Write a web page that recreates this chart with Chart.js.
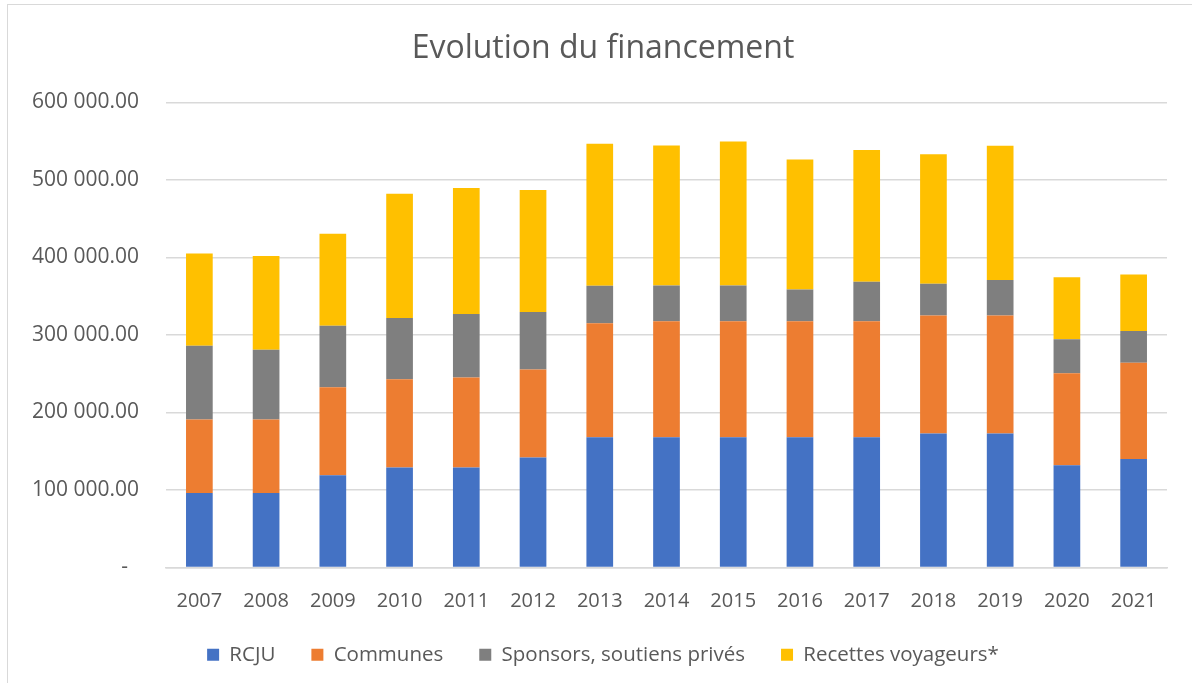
<!DOCTYPE html>
<html lang="fr">
<head>
<meta charset="utf-8">
<title>Evolution du financement</title>
<script src="https://cdn.jsdelivr.net/npm/chart.js@4.4.1/dist/chart.umd.min.js"></script>
<style>
  html, body { margin: 0; padding: 0; background: #fff; overflow: hidden; }
  #frame {
    position: absolute; left: 7px; top: 4px; width: 1300px; height: 800px;
    border: 1.5px solid #d9d9d9;
  }
  #wrap { position: absolute; left: 0; top: 0; width: 1192px; height: 683px; }
</style>
</head>
<body>
<div id="frame"></div>
<div id="wrap"><canvas id="chart"></canvas></div>
<script>
  // Evolution du financement — montants par année
  const YEARS    = ["2007", "2008", "2009", "2010", "2011", "2012", "2013", "2014",
                    "2015", "2016", "2017", "2018", "2019", "2020", "2021"];
  const RCJU     = [96000, 96000, 119000, 129000, 129000, 142000, 168000, 168000,
                    168000, 168000, 168000, 173000, 173000, 132000, 140000];
  const COMMUNES = [95000, 95000, 113500, 114000, 116000, 113500, 147000, 149700,
                    149700, 149700, 149700, 152000, 152000, 118500, 124000];
  const SPONSORS = [95000, 90000, 79500, 79000, 82000, 74000, 48500, 46000,
                    46000, 40800, 51000, 41000, 46000, 44000, 41000];
  const RECETTES = [119000, 121000, 118700, 160000, 162500, 157500, 183000, 180700,
                    185800, 167700, 170000, 167000, 173000, 80000, 73000];
  const Y_MAX  = 600000;
  const Y_STEP = 100000;

  (function () {
    "use strict";

    const TXT  = "#595959";
    const GRID = "#d9d9d9";
    const FONT = "'Open Sans', 'Noto Sans', sans-serif";

    // format comptable : 600 000.00, zéro = "-"
    function fmtAmount(v) {
      if (v === 0) return "-  ";
      const parts = Number(v).toFixed(2).split(".");
      return parts[0].replace(/\B(?=(\d{3})+(?!\d))/g, " ") + "." + parts[1];
    }

    function ds(label, data, color) {
      return {
        label, data,
        backgroundColor: color,
        borderWidth: 0,
        barPercentage: 0.4,
        categoryPercentage: 1.0,
      };
    }

    new Chart(document.getElementById("chart"), {
      type: "bar",
      data: {
        labels: YEARS,
        datasets: [
          ds("RCJU", RCJU, "#4472c4"),
          ds("Communes", COMMUNES, "#ed7d31"),
          ds("Sponsors, soutiens privés", SPONSORS, "#7f7f7f"),
          ds("Recettes voyageurs*", RECETTES, "#ffc000"),
        ],
      },
      options: {
        responsive: true,
        maintainAspectRatio: false,
        animation: false,
        layout: { padding: { left: 14, right: 0, top: 0, bottom: 8 } },
        plugins: {
          tooltip: { enabled: false },
          title: {
            display: true,
            text: "Evolution du financement",
            color: TXT,
            font: { family: FONT, size: 32, weight: "normal" },
            padding: { top: 30, bottom: 34 },
          },
          legend: {
            position: "bottom",
            labels: {
              color: TXT,
              font: { family: FONT, size: 20.5 },
              boxWidth: 12,
              boxHeight: 12,
              padding: 36,
            },
          },
        },
        scales: {
          x: {
            stacked: true,
            afterFit: s => { s.height = 41; },
            grid: { display: false },
            border: { display: true, color: GRID, width: 1.5 },
            ticks: { color: TXT, font: { family: FONT, size: 20 }, padding: 14 },
          },
          y: {
            stacked: true,
            min: 0,
            max: Y_MAX,
            afterFit: s => { s.width = 152; },
            grid: { color: GRID, lineWidth: 1.5, drawTicks: false },
            border: { display: false },
            ticks: {
              stepSize: Y_STEP,
              color: TXT,
              font: { family: FONT, size: 21 },
              padding: 27,
              callback: v => fmtAmount(v),
            },
          },
          yr: {
            position: "right",
            afterFit: s => { s.width = 25; },
            grid: { display: false },
            border: { display: false },
            ticks: { display: false },
          },
        },
      },
    });
  })();
</script>
</body>
</html>
